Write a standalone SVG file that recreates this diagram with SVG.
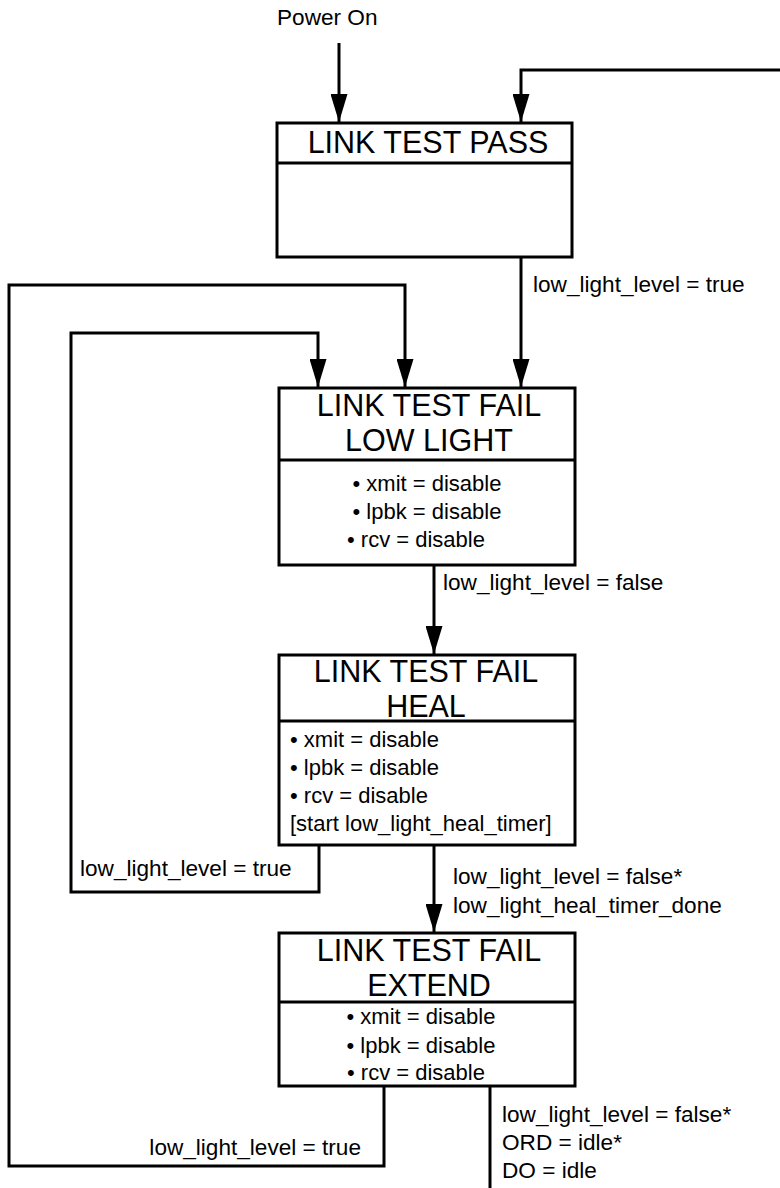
<svg xmlns="http://www.w3.org/2000/svg" width="780" height="1188" viewBox="0 0 780 1188">
<style>
.box{fill:#fff;stroke:#000;stroke-width:3}
.div{stroke:#000;stroke-width:3}
.ln{fill:none;stroke:#000;stroke-width:3}
text{font-family:"Liberation Sans",Arial,sans-serif;fill:#000}
.t{font-size:30.5px;text-anchor:middle}
.b{font-size:22px}
.c{text-anchor:middle}
.lbl{font-size:22.6px}
</style>
<defs>
<marker id="ah" viewBox="0 0 28 17" refX="28" refY="8.5" markerWidth="28" markerHeight="17" markerUnits="userSpaceOnUse" orient="auto">
<path d="M0,0 L28,8.5 L0,17 Z" fill="#000"/>
</marker>
</defs>
<rect width="780" height="1188" fill="#fff"/>
<g id="connectors">
<path class="ln" d="M339,43 V122" marker-end="url(#ah)"/>
<path class="ln" d="M780,70 H521 V122" marker-end="url(#ah)"/>
<path class="ln" d="M521,258 V387" marker-end="url(#ah)"/>
<path class="ln" d="M384,1086 V1166 H9 V285 H405 V387" marker-end="url(#ah)"/>
<path class="ln" d="M319,845 V892 H71 V333 H318 V387" marker-end="url(#ah)"/>
<path class="ln" d="M434,565 V654" marker-end="url(#ah)"/>
<path class="ln" d="M434,845 V932" marker-end="url(#ah)"/>
<path class="ln" d="M490,1086 V1188"/>
<text class="lbl" x="277" y="25">Power On</text>
<text class="lbl" x="533" y="292">low_light_level = true</text>
<text class="lbl" x="443" y="590">low_light_level = false</text>
<text class="lbl" x="80" y="876">low_light_level = true</text>
<text class="lbl" x="453" y="884">low_light_level = false*</text>
<text class="lbl" x="453" y="913">low_light_heal_timer_done</text>
<text class="lbl" x="361" y="1155" text-anchor="end">low_light_level = true</text>
<text class="lbl" x="502" y="1122">low_light_level = false*</text>
<text class="lbl" x="502" y="1150">ORD = idle*</text>
<text class="lbl" x="502" y="1178">DO = idle</text>
</g>
<g id="pass">
<rect class="box" x="277" y="123" width="295" height="134"/>
<line class="div" x1="277" y1="163" x2="572" y2="163"/>
<text class="t" x="428" y="153">LINK TEST PASS</text>
</g>
<g id="lowlight">
<rect class="box" x="279" y="388" width="296" height="177"/>
<line class="div" x1="279" y1="460" x2="575" y2="460"/>
<text class="t" x="429" y="416">LINK TEST FAIL</text>
<text class="t" x="429" y="451">LOW LIGHT</text>
<text class="b c" x="427" y="491">• xmit = disable</text>
<text class="b c" x="427" y="519">• lpbk = disable</text>
<text class="b c" x="416" y="547">• rcv = disable</text>
</g>
<g id="heal">
<rect class="box" x="279" y="655" width="296" height="190"/>
<line class="div" x1="279" y1="721" x2="575" y2="721"/>
<text class="t" x="426" y="682">LINK TEST FAIL</text>
<text class="t" x="426" y="717">HEAL</text>
<text class="b" x="290" y="747">• xmit = disable</text>
<text class="b" x="290" y="775">• lpbk = disable</text>
<text class="b" x="290" y="803">• rcv = disable</text>
<text class="b" x="290" y="831">[start low_light_heal_timer]</text>
</g>
<g id="extend">
<rect class="box" x="279" y="933" width="296" height="153"/>
<line class="div" x1="279" y1="1002" x2="575" y2="1002"/>
<text class="t" x="429" y="961">LINK TEST FAIL</text>
<text class="t" x="429" y="996">EXTEND</text>
<text class="b c" x="421" y="1024">• xmit = disable</text>
<text class="b c" x="421" y="1053">• lpbk = disable</text>
<text class="b c" x="416" y="1080">• rcv = disable</text>
</g>
</svg>
